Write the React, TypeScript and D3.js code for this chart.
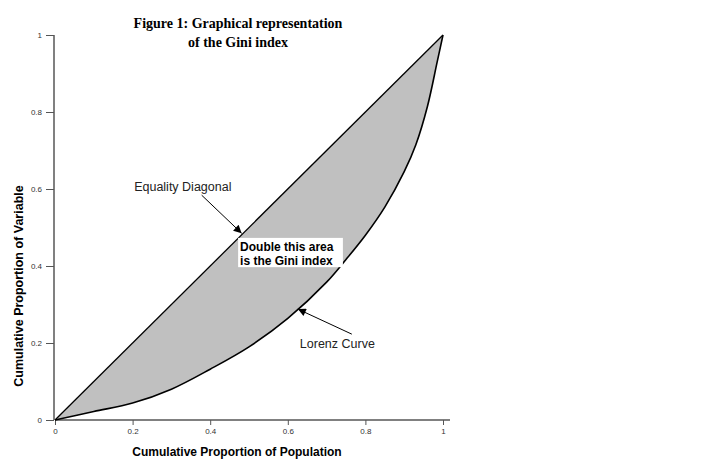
import React, { useRef, useEffect } from 'react';
import * as d3 from 'd3';

// Lorenz curve
const lorenzX = [0, 0.1, 0.2, 0.3, 0.4, 0.5, 0.6, 0.7, 0.75, 0.8, 0.85, 0.9, 0.93, 0.96, 0.985, 1];
const lorenzY = [0, 0.022, 0.044, 0.08, 0.132, 0.19, 0.264, 0.358, 0.417, 0.48, 0.553, 0.645, 0.715, 0.815, 0.93, 1];
const equalityX = [0, 1];
const equalityY = [0, 1];
const tickValues = [0, 0.2, 0.4, 0.6, 0.8, 1];
const titleLines = ['Figure 1: Graphical representation', 'of the Gini index'];
const giniLines = ['Double this area', 'is the Gini index'];

const App = () => {
  const svgRef = useRef(null);

  useEffect(() => {
    d3.select(svgRef.current).selectAll('*').remove();
    const svg = d3.select(svgRef.current);
    const sans = 'Arial, "Liberation Sans", sans-serif';

    const x = d3.scaleLinear().domain([0, 1]).range([55, 443]);
    const y = d3.scaleLinear().domain([0, 1]).range([420, 35]);

    const lorenz = lorenzX.map((v, i) => [v, lorenzY[i]]);
    const diag = equalityX.map((v, i) => [v, equalityY[i]]);

    // arrow head
    svg
      .append('defs')
      .append('marker')
      .attr('id', 'arrow')
      .attr('viewBox', '0 0 10 10')
      .attr('refX', 10)
      .attr('refY', 5)
      .attr('markerWidth', 11)
      .attr('markerHeight', 8)
      .attr('markerUnits', 'userSpaceOnUse')
      .attr('orient', 'auto')
      .append('path')
      .attr('d', 'M0,0 L10,5 L0,10 Z')
      .attr('fill', '#000');

    const line = d3
      .line()
      .x((d) => x(d[0]))
      .y((d) => y(d[1]))
      .curve(d3.curveCatmullRom.alpha(0.5));

    // shaded area between the diagonal and the curve
    const areaPath =
      `M${x(diag[0][0])},${y(diag[0][1])} L${x(diag[1][0])},${y(diag[1][1])} ` +
      line(lorenz.slice().reverse()).replace(/^M/, 'L') +
      ' Z';
    svg.append('path').attr('d', areaPath).attr('fill', '#c0c0c0').attr('stroke', 'none');

    // axes
    const axisColor = '#808080';
    const xAxis = d3.axisBottom(x).tickValues(tickValues).tickSize(5).tickPadding(3).tickFormat((d) => String(d));
    const gx = svg.append('g').attr('transform', `translate(0,${y(0)})`).call(xAxis);
    gx.select('.domain').attr('d', `M${x(0)},0H${x(1) + 7}`).attr('stroke', axisColor).attr('stroke-width', 2);

    const yAxis = d3.axisLeft(y).tickValues(tickValues).tickSize(8).tickPadding(4).tickFormat((d) => String(d));
    const gy = svg.append('g').attr('transform', `translate(${x(0) - 1},0)`).call(yAxis);
    gy.select('.domain').attr('d', `M0,${y(0)}V${y(1)}`).attr('stroke', axisColor).attr('stroke-width', 2);

    [gx, gy].forEach((g) => {
      g.selectAll('.tick line').attr('stroke', '#555').attr('stroke-width', 1);
      g.selectAll('.tick text')
        .attr('fill', '#333')
        .style('font-family', sans)
        .style('font-size', '8px');
    });

    // equality diagonal and lorenz curve
    svg
      .append('path')
      .attr('d', d3.line().x((d) => x(d[0])).y((d) => y(d[1]))(diag))
      .attr('fill', 'none')
      .attr('stroke', '#000')
      .attr('stroke-width', 1.3);
    svg
      .append('path')
      .attr('d', line(lorenz))
      .attr('fill', 'none')
      .attr('stroke', '#000')
      .attr('stroke-width', 1.6);

    // title
    svg
      .append('g')
      .selectAll('text')
      .data(titleLines)
      .join('text')
      .attr('x', 238)
      .attr('y', (d, i) => 28 + i * 19)
      .attr('text-anchor', 'middle')
      .style('font-family', '"Liberation Serif", "Times New Roman", serif')
      .style('font-weight', 'bold')
      .style('font-size', '14px')
      .text((d) => d);

    // axis titles
    svg
      .append('text')
      .attr('x', 237)
      .attr('y', 456)
      .attr('text-anchor', 'middle')
      .style('font-family', sans)
      .style('font-weight', 'bold')
      .style('font-size', '12px')
      .text('Cumulative Proportion of Population');
    svg
      .append('text')
      .attr('transform', 'translate(23,286) rotate(-90)')
      .attr('text-anchor', 'middle')
      .style('font-family', sans)
      .style('font-weight', 'bold')
      .style('font-size', '12.5px')
      .text('Cumulative Proportion of Variable');

    // annotation: equality diagonal
    svg
      .append('text')
      .attr('x', x(0.204))
      .attr('y', y(0.595))
      .style('font-family', sans)
      .style('font-size', '12.5px')
      .attr('fill', '#222')
      .text('Equality Diagonal');
    svg
      .append('line')
      .attr('x1', x(0.378))
      .attr('y1', y(0.584))
      .attr('x2', x(0.481))
      .attr('y2', y(0.485))
      .attr('stroke', '#000')
      .attr('stroke-width', 1)
      .attr('marker-end', 'url(#arrow)');

    // annotation: gini box
    svg
      .append('rect')
      .attr('x', x(0.472))
      .attr('y', y(0.473))
      .attr('width', x(0.742) - x(0.472))
      .attr('height', y(0.397) - y(0.473))
      .attr('fill', '#fff');
    svg
      .append('g')
      .selectAll('text')
      .data(giniLines)
      .join('text')
      .attr('x', x(0.477))
      .attr('y', (d, i) => y(0.439) + i * 14)
      .style('font-family', sans)
      .style('font-weight', 'bold')
      .style('font-size', '12px')
      .text((d) => d);

    // annotation: lorenz curve
    svg
      .append('text')
      .attr('x', x(0.631))
      .attr('y', y(0.187))
      .style('font-family', sans)
      .style('font-size', '12.5px')
      .attr('fill', '#222')
      .text('Lorenz Curve');
    svg
      .append('line')
      .attr('x1', x(0.765))
      .attr('y1', y(0.223))
      .attr('x2', x(0.626))
      .attr('y2', y(0.288))
      .attr('stroke', '#000')
      .attr('stroke-width', 1)
      .attr('marker-end', 'url(#arrow)');
  }, []);

  return (
    <svg
      ref={svgRef}
      width={716}
      height={470}
      style={{ position: 'absolute', left: 0, top: 0, background: '#fff' }}
    ></svg>
  );
};

export default App;
